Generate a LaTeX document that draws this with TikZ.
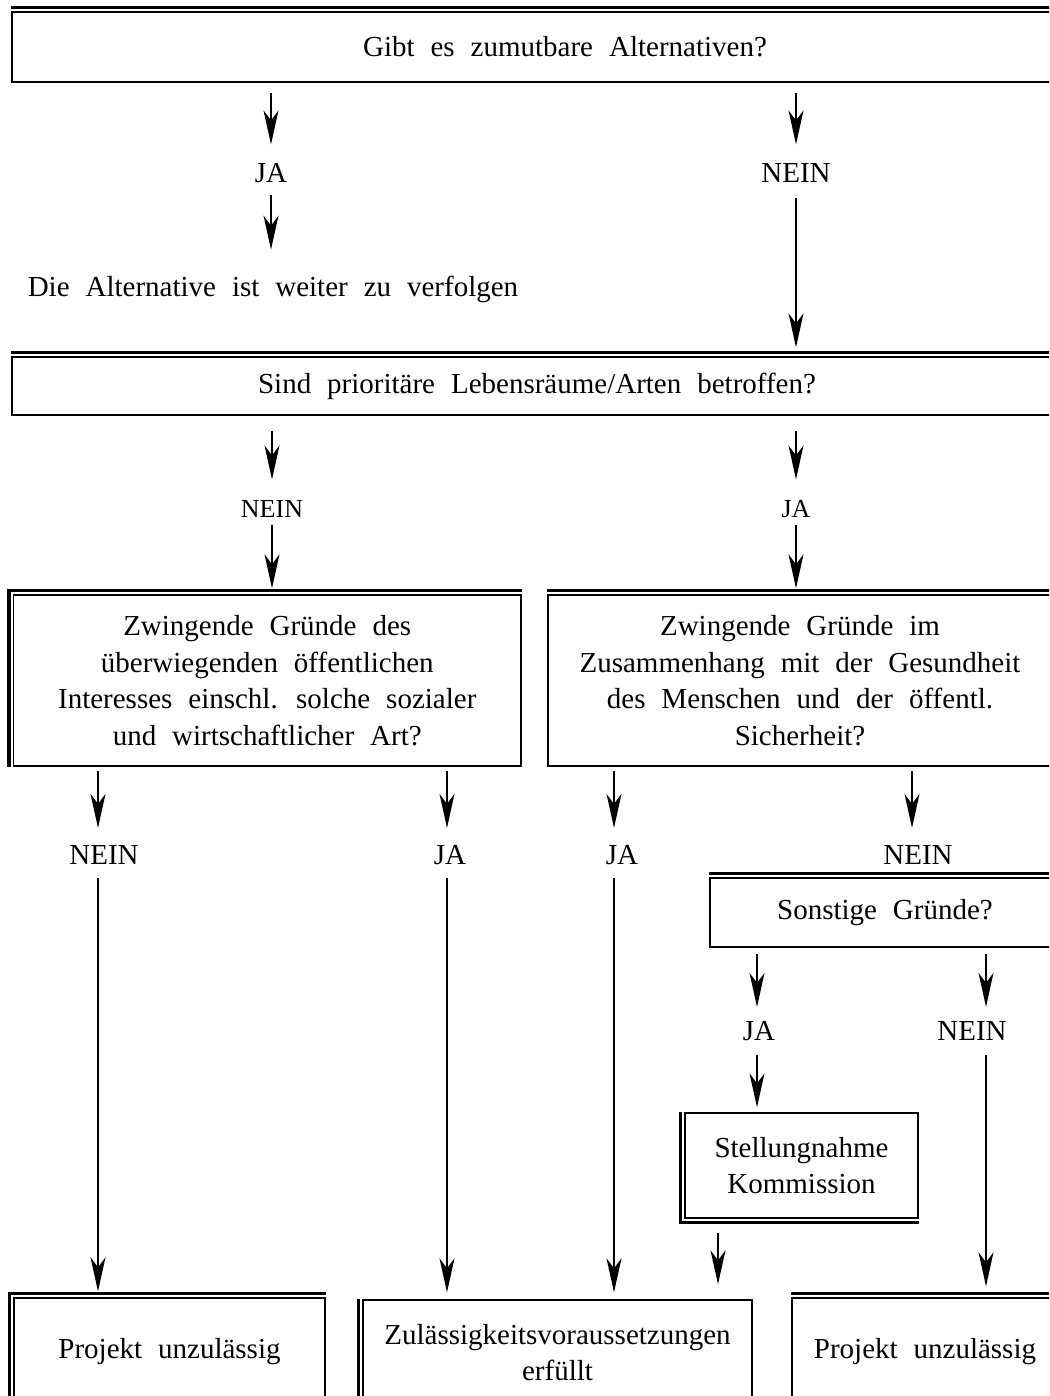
\documentclass[tikz,border=0pt]{standalone}
\usepackage{fontspec}
\setmainfont{Liberation Serif}[WordSpace=2.2]
\usetikzlibrary{arrows.meta}
\begin{document}
\begin{tikzpicture}[x=0.5pt,y=-0.5pt,
  box/.style={draw, line width=0.7pt, inner sep=0pt, align=center,
    font=\fontsize{14.5}{18.25}\selectfont},
  lab/.style={inner sep=0pt, anchor=base, text height=9.6pt, text depth=0pt,
    font=\fontsize{14.5}{18}\selectfont},
  labsm/.style={inner sep=0pt, anchor=base, text height=8.6pt, text depth=0pt,
    font=\fontsize{13}{16}\selectfont},
  arr/.style={-{Stealth[length=17pt,width=7.5pt,inset=5pt]}, line width=0.7pt},
  heavy/.style={line width=1.7pt, line join=miter}
]
\useasboundingbox (0,0) rectangle (1049,1396);
\clip (0,0) rectangle (1049,1396);

% columns for connectors
\coordinate (k1) at (98,0);
\coordinate (k2) at (447,0);
\coordinate (k3) at (614,0);
\coordinate (k4) at (912,0);
\coordinate (k5) at (757,0);
\coordinate (k6) at (986,0);
\coordinate (k7) at (718,0);

% boxes
\node[box, minimum width=553pt, minimum height=35pt] (q1) at (565,47) {Gibt es zumutbare Alternativen?};
\draw[heavy] ([yshift=2pt]q1.north west) -- ([yshift=2pt]q1.north east);

\node[box, minimum width=525pt, minimum height=29pt] (q2) at (537,386) {Sind prioritäre Lebensräume/Arten betroffen?};
\draw[heavy] ([yshift=2pt]q2.north west) -- ([yshift=2pt]q2.north east);

\node[box, minimum width=253.75pt, minimum height=85.5pt] (q3) at (267.25,680.5)
  {Zwingende Gründe des\\überwiegenden öffentlichen\\Interesses einschl. solche sozialer\\und wirtschaftlicher Art?};
\draw[heavy] ([xshift=-2pt]q3.south west) -- ([xshift=-2pt,yshift=2pt]q3.north west) -- ([yshift=2pt]q3.north east);

\node[box, minimum width=252pt, minimum height=85.5pt] (q4) at (800,680.5)
  {Zwingende Gründe im\\Zusammenhang mit der Gesundheit\\des Menschen und der öffentl.\\Sicherheit?};
\draw[heavy] ([yshift=2pt]q4.north west) -- ([yshift=2pt]q4.north east);

\node[box, minimum width=175pt, minimum height=34.5pt] (q5) at (885,912.5) {Sonstige Gründe?};
\draw[heavy] ([yshift=2pt]q5.north west) -- ([yshift=2pt]q5.north east);

\node[box, minimum width=116.5pt, minimum height=52.5pt] (st) at (801.5,1165.5) {Stellungnahme\\Kommission};
\draw[heavy] ([xshift=-2pt]st.north west) -- ([xshift=-2pt,yshift=-2pt]st.south west) -- ([yshift=-2pt]st.south east);

\node[box, minimum width=155.5pt, minimum height=54pt] (p1) at (169.5,1352) {Projekt unzulässig};
\draw[heavy] ([xshift=-2pt]p1.south west) -- ([xshift=-2pt,yshift=2pt]p1.north west) -- ([yshift=2pt]p1.north east);

\node[box, minimum width=194.5pt, minimum height=52.5pt] (ok) at (557.5,1352.5) {Zulässigkeitsvoraussetzungen\\erfüllt};
\draw[heavy] ([xshift=-2pt]ok.north west) -- ([xshift=-2pt]ok.south west);

\node[box, minimum width=133pt, minimum height=54pt] (p2) at (925,1352) {Projekt unzulässig};
\draw[heavy] ([yshift=2pt]p2.north west) -- ([yshift=2pt]p2.north east);

% labels
\node[lab] (ja1) at (271,183) {JA};
\node[lab] (nein1) at (796,183) {NEIN};
\node[lab] (alt) at (273,296) {Die Alternative ist weiter zu verfolgen};
\node[labsm] (nein2) at (272,517) {NEIN};
\node[labsm] (ja2) at (796,517) {JA};
\node[lab] (nein3) at (104,864.5) {NEIN};
\node[lab] (ja3) at (450,864.5) {JA};
\node[lab] (ja4) at (622,864.5) {JA};
\node[lab] (nein4) at (918,864.5) {NEIN};
\node[lab] (ja5) at (759,1040.5) {JA};
\node[lab] (nein5) at (972,1040.5) {NEIN};

% connectors
\draw[arr, shorten <=5pt, shorten >=9.5pt] (q1.south -| ja1) -- (ja1.north);
\draw[arr, shorten <=6pt, shorten >=13.4pt] (ja1.south) -- (alt.north -| ja1);
\draw[arr, shorten <=5pt, shorten >=9.5pt] (q1.south -| nein1) -- (nein1.north);
\draw[arr, shorten <=7.5pt, shorten >=4.5pt] (nein1.south) -- (q2.north -| nein1);

\draw[arr, shorten <=7.5pt, shorten >=10pt] (q2.south -| nein2) -- (nein2.north);
\draw[arr, shorten <=4pt, shorten >=3pt] (nein2.south) -- (q3.north -| nein2);
\draw[arr, shorten <=7.5pt, shorten >=10pt] (q2.south -| ja2) -- (ja2.north);
\draw[arr, shorten <=4pt, shorten >=3pt] (ja2.south) -- (q4.north -| ja2);

\draw[arr, shorten <=2pt, shorten >=8.5pt] (q3.south -| k1) -- (nein3.north -| k1);
\draw[arr, shorten <=2pt, shorten >=8.5pt] (q3.south -| k2) -- (ja3.north -| k2);
\draw[arr, shorten <=2pt, shorten >=8.5pt] (q4.south -| k3) -- (ja4.north -| k3);
\draw[arr, shorten <=2pt, shorten >=8.5pt] (q4.south -| k4) -- (nein4.north -| k4);

\draw[arr, shorten <=6.75pt, shorten >=3pt] (nein3.south -| k1) -- (p1.north -| k1);
\draw[arr, shorten <=6.75pt, shorten >=3.5pt] (ja3.south -| k2) -- (ok.north -| k2);
\draw[arr, shorten <=6.75pt, shorten >=3.5pt] (ja4.south -| k3) -- (ok.north -| k3);

\draw[arr, shorten <=3pt, shorten >=7pt] (q5.south -| k5) -- (ja5.north -| k5);
\draw[arr, shorten <=3pt, shorten >=7pt] (q5.south -| k6) -- (nein5.north -| k6);
\draw[arr, shorten <=7pt, shorten >=2.5pt] (ja5.south -| k5) -- (st.north -| k5);
\draw[arr, shorten <=7pt, shorten >=5.5pt] (nein5.south -| k6) -- (p2.north -| k6);
\draw[arr, shorten <=7pt, shorten >=7.5pt] (st.south -| k7) -- (ok.north -| k7);
\end{tikzpicture}
\end{document}
